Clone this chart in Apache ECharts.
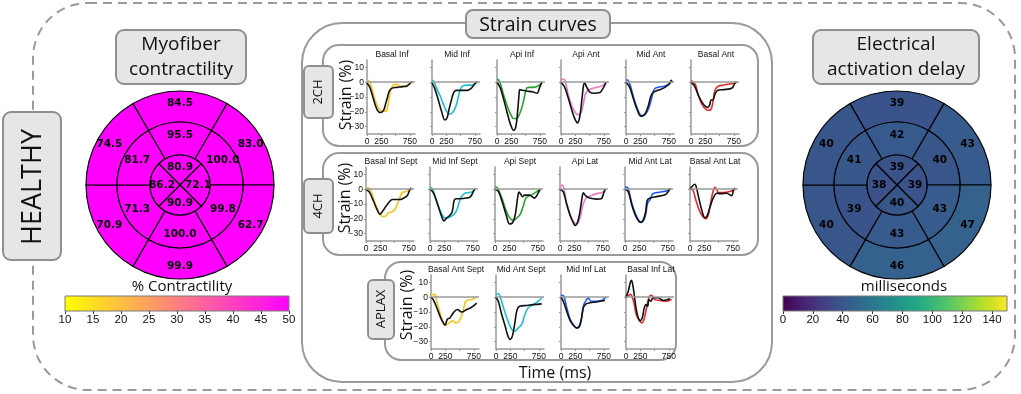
<!DOCTYPE html>
<html>
<head>
<meta charset="utf-8">
<title>Healthy: contractility, strain curves, activation delay</title>
<script src="https://cdn.jsdelivr.net/npm/echarts@6/dist/echarts.min.js"></script>
<style>
  html, body { margin: 0; padding: 0; background: #fff; }
  #chart { width: 1021px; height: 394px; }
</style>
</head>
<body>
<div id="chart"></div>
<script>
// ---- bullseye values (order: clockwise from the top segment) ----
const contractOuter = [84.5, 83.0, 62.7, 99.9, 70.9, 74.5];
const contractMid = [95.5, 100.0, 99.8, 100.0, 71.3, 81.7];
const contractApex = [80.9, 72.1, 90.9, 86.2];
const delayOuter = [39, 43, 47, 46, 40, 40];
const delayMid = [42, 40, 43, 43, 39, 41];
const delayApex = [39, 39, 40, 38];

const contractRange = [10, 50];
const delayRange = [0, 150];
const contractTicks = [10, 15, 20, 25, 30, 35, 40, 45, 50];
const delayTicks = [0, 20, 40, 60, 80, 100, 120, 140];

// ---- strain curves: [time (ms), strain (%)] ; sim = coloured, echo = black ----
const basalInfSim = [[0,1.5],[40,0.5],[90,-5],[150,-13],[210,-18],[270,-19.5],[330,-19.8],[360,-17],[390,-10],[420,-5],[460,-2],[520,-1.5],[600,-2.8],[680,-2.8],[740,-1.5],[790,0.5]];
const basalInfEcho = [[0,-0.5],[50,-3.5],[110,-11],[170,-18],[230,-20.5],[290,-19],[330,-14],[360,-10],[390,-6],[440,-4],[520,-3.5],[620,-3],[700,-2.5],[760,-0.5],[790,0.5]];
const midInfSim = [[0,1.5],[30,0.5],[80,-4],[140,-9],[200,-15],[260,-20],[320,-21.5],[370,-20],[420,-16],[460,-10],[500,-4.5],[540,-2.5],[620,-2],[690,-2],[750,-1],[790,0.5]];
const midInfEcho = [[0,-0.5],[50,-4.5],[110,-12],[170,-20],[225,-25.5],[265,-24],[300,-18],[340,-12],[380,-7],[420,-5.5],[500,-5.5],[620,-5.5],[690,-4],[750,-1],[790,0.5]];
const apiInfSim = [[0,2],[30,1.5],[60,-1],[110,-8],[170,-15],[230,-21],[290,-24.5],[340,-24.5],[400,-21],[450,-15],[490,-8],[520,-4],[560,-3.5],[640,-3.5],[720,-2.5],[790,0]];
const apiInfEcho = [[0,0],[60,-4],[120,-12],[180,-21],[240,-29],[290,-32.5],[330,-30],[360,-20],[385,-9],[400,-5],[450,-5.5],[520,-6],[620,-6.5],[700,-7.5],[750,-3],[790,0]];
const apiAntSim = [[0,1],[20,2],[50,2],[80,0],[130,-9],[190,-16],[250,-20.5],[300,-22],[350,-20.5],[390,-15],[420,-9],[460,-6],[530,-4.5],[620,-3.5],[720,-2.5],[790,0]];
const apiAntEcho = [[0,0],[60,-3],[130,-11],[190,-19],[250,-25.5],[290,-27.5],[330,-23],[365,-12],[395,-2],[415,-0.5],[445,-3],[500,-6.5],[580,-7.5],[680,-7],[745,-3.5],[790,0]];
const midAntSim = [[0,1.5],[30,1.5],[60,-0.5],[90,-4],[130,-10],[200,-18],[270,-22.5],[330,-22],[380,-19],[420,-15],[460,-9],[500,-4.5],[560,-3.5],[680,-2.5],[760,-1],[795,0.5]];
const midAntEcho = [[0,0],[60,-3],[120,-10],[190,-18],[260,-23],[300,-22.5],[340,-21],[390,-16],[430,-10],[470,-7],[560,-5.5],[680,-3.5],[760,-1],[790,1.2],[810,0]];
const basalAntSim = [[0,1],[40,0],[80,-2],[130,-9],[200,-15.5],[270,-18.5],[320,-19],[360,-17.5],[390,-12],[420,-5.5],[470,-2.8],[560,-2],[680,-1.2],[760,-0.5],[795,0]];
const basalAntEcho = [[0,0],[60,-2.5],[130,-9],[200,-14],[260,-16.5],[300,-17],[330,-15],[350,-12],[380,-12],[420,-8],[470,-5.5],[580,-5],[680,-4.5],[730,-3.5],[770,-0.5],[795,0]];

const basalInfSeptSim = [[0,1],[40,1],[80,-1],[130,-6],[190,-12.5],[250,-17],[300,-18.5],[350,-18],[390,-16],[440,-15.5],[500,-14],[550,-10],[590,-6],[630,-2.5],[700,-1.5],[760,-0.5],[790,0]];
const basalInfSeptEcho = [[0,0],[60,-2],[130,-8],[190,-13.5],[245,-17],[290,-15],[340,-12],[400,-9],[460,-7],[520,-7],[590,-7],[660,-6],[720,-4.5],[760,-1],[790,1]];
const midInfSeptSim = [[0,1.3],[40,0.3],[100,-6],[170,-14],[240,-19],[300,-19.5],[360,-18.5],[420,-17],[470,-14],[510,-9],[550,-5],[620,-2.5],[720,-2],[790,0]];
const midInfSeptEcho = [[0,0],[60,-2.5],[140,-11],[200,-18],[245,-21.5],[290,-19.5],[340,-18],[390,-15],[420,-8],[450,-6.5],[520,-6.5],[640,-6],[710,-5],[760,-1.5],[790,0.5]];
const apiSeptSim = [[0,1.3],[30,1.5],[60,-0.5],[120,-6],[190,-14],[260,-19.5],[320,-21],[380,-19.5],[440,-17],[490,-12],[540,-6],[600,-4.5],[680,-3],[790,0]];
const apiSeptEcho = [[0,0],[60,-1.5],[130,-9],[200,-18],[255,-23.5],[310,-22.5],[360,-16],[395,-6],[420,-2],[445,-3],[480,-5],[520,-4],[600,-4],[690,-6],[750,-3],[790,0]];
const apiLatSim = [[0,1.5],[40,2.8],[70,0],[115,-9],[175,-17],[230,-21.5],[280,-23.5],[320,-22.5],[360,-18],[405,-10],[460,-6],[530,-4.5],[640,-3],[750,-2],[795,0]];
const apiLatEcho = [[0,0],[60,-2],[115,-10],[175,-17.5],[230,-22.5],[265,-24.5],[310,-22],[350,-15],[385,-6],[410,-2.5],[450,-4.5],[520,-6],[640,-6.7],[720,-6.5],[770,-2],[795,0]];
const midAntLatSim = [[0,1.3],[40,1.3],[70,-1.5],[115,-9],[175,-16],[230,-20.5],[275,-22],[320,-21.5],[360,-17.5],[395,-9.5],[440,-7],[490,-3],[600,-2],[720,-1.2],[790,0]];
const midAntLatEcho = [[0,0],[55,-1.5],[115,-10],[175,-17],[230,-21],[270,-22.5],[315,-21],[360,-15.5],[390,-7.5],[440,-6],[550,-5],[690,-4],[750,-2],[790,0.7]];
const basalAntLatSim = [[0,0.7],[50,-0.5],[100,-7],[160,-14],[220,-18.3],[275,-20],[315,-18],[355,-10.5],[400,-2],[435,1.3],[465,0],[500,-2.2],[580,-2.2],[700,-1.5],[790,0]];
const basalAntLatEcho = [[0,0],[45,2.2],[85,3.3],[115,0.7],[160,-7],[220,-16],[260,-19.3],[300,-18],[345,-12.7],[395,-7],[435,-3.8],[470,-2.7],[530,-3],[640,-2.7],[725,-4.4],[765,0],[795,0.7]];

const basalAntSeptSim = [[0,0],[30,1.8],[70,1.8],[100,-2.7],[150,-9.5],[205,-16],[260,-19],[320,-17.4],[380,-16],[440,-17.4],[495,-16],[555,-10.5],[610,-2.7],[710,-1.6],[790,0]];
const basalAntSeptEcho = [[0,0],[40,-1.6],[100,-7],[170,-14],[215,-17.4],[245,-19],[285,-15],[330,-14],[390,-10.6],[460,-8.3],[535,-10],[625,-8.3],[710,-6.8],[800,-4]];
const midAntSeptSim = [[0,1.8],[40,2.5],[70,0.7],[130,-7],[190,-14],[245,-19.5],[290,-22.5],[330,-23],[390,-20.7],[450,-18.4],[505,-11.7],[565,-7.2],[650,-5],[740,-2.7],[800,-0.4]];
const midAntSeptEcho = [[0,0],[40,-2.7],[100,-11.7],[160,-19.5],[205,-25.8],[245,-28.5],[290,-25.8],[330,-17.3],[370,-8.3],[420,-6],[540,-5.6],[650,-5],[800,-4.5]];
const midInfLatSim = [[0,0.7],[30,1.3],[60,-0.4],[100,-7],[160,-15],[230,-19.5],[285,-21],[330,-19.5],[370,-11.7],[400,-5],[450,-1.6],[480,-0.4],[520,-2.7],[600,-2.7],[710,-2.2],[790,0]];
const midInfLatEcho = [[0,0],[40,-2.7],[100,-9.5],[160,-15.8],[230,-19.5],[275,-20.7],[320,-19.5],[360,-14],[390,-7.2],[440,-4.5],[510,-3.8],[620,-3.2],[770,-2.2]];
const basalInfLatSim = [[0,0],[40,1],[80,2],[110,0],[140,-4],[180,-11.7],[235,-16],[275,-17.4],[315,-15],[360,-7.2],[400,-0.4],[435,1.3],[465,0.7],[505,-1.6],[595,-2.2],[710,-2.7],[800,-1.5]];
const basalInfLatEcho = [[0,0],[40,4],[75,10],[95,11.5],[115,9],[140,3],[175,-7.2],[215,-14],[255,-15.8],[290,-13],[320,-7.2],[350,-5],[380,-6],[400,-1.6],[435,-2.7],[475,-0.4],[565,-0.4],[650,-2.2],[770,-1.1]];

const strainTicks = [10, 0, -10, -20, -30];
const timeLabels = [0, 250, 750];
const timeTicks = [0, 250, 500, 750];

// ---- colours ----
const YELLOW = "#f7c51c", CYAN = "#1cbfd0", GREEN = "#27a02e", PINK = "#e47cc8", BLUE = "#2058f0", RED = "#e22a2a";
const springR = ["#ffff00", "#ff00ff"];
const viridis = ["#440154", "#482475", "#414487", "#355f8d", "#2a788e", "#21918c", "#22a884", "#44bf70", "#7ad151", "#bddf26", "#fde725"];

const rows = [
  { view: "2CH", top: 60, lefts: [367, 432, 497, 561, 626, 691] },
  { view: "4CH", top: 167, lefts: [366, 430, 495, 560, 625, 690] },
  { view: "APLAX", top: 275, lefts: [431, 496, 561, 626] },
];

const panels = [
  { view: "2CH", title: "Basal Inf", color: YELLOW, sim: basalInfSim, echo: basalInfEcho },
  { view: "2CH", title: "Mid Inf", color: CYAN, sim: midInfSim, echo: midInfEcho },
  { view: "2CH", title: "Api Inf", color: GREEN, sim: apiInfSim, echo: apiInfEcho },
  { view: "2CH", title: "Api Ant", color: PINK, sim: apiAntSim, echo: apiAntEcho },
  { view: "2CH", title: "Mid Ant", color: BLUE, sim: midAntSim, echo: midAntEcho },
  { view: "2CH", title: "Basal Ant", color: RED, sim: basalAntSim, echo: basalAntEcho },
  { view: "4CH", title: "Basal Inf Sept", color: YELLOW, sim: basalInfSeptSim, echo: basalInfSeptEcho },
  { view: "4CH", title: "Mid Inf Sept", color: CYAN, sim: midInfSeptSim, echo: midInfSeptEcho },
  { view: "4CH", title: "Api Sept", color: GREEN, sim: apiSeptSim, echo: apiSeptEcho },
  { view: "4CH", title: "Api Lat", color: PINK, sim: apiLatSim, echo: apiLatEcho },
  { view: "4CH", title: "Mid Ant Lat", color: BLUE, sim: midAntLatSim, echo: midAntLatEcho },
  { view: "4CH", title: "Basal Ant Lat", color: RED, sim: basalAntLatSim, echo: basalAntLatEcho },
  { view: "APLAX", title: "Basal Ant Sept", color: YELLOW, sim: basalAntSeptSim, echo: basalAntSeptEcho },
  { view: "APLAX", title: "Mid Ant Sept", color: CYAN, sim: midAntSeptSim, echo: midAntSeptEcho },
  { view: "APLAX", title: "Mid Inf Lat", color: BLUE, sim: midInfLatSim, echo: midInfLatEcho },
  { view: "APLAX", title: "Basal Inf Lat", color: RED, sim: basalInfLatSim, echo: basalInfLatEcho },
];

const PANEL_W = 48, PANEL_H = 74;
const SMALL_FONT = "Liberation Sans";
const LABEL_FONT = "Open Sans";

function hexToRgb(hex) {
  const n = parseInt(hex.slice(1), 16);
  return [n >> 16, (n >> 8) & 255, n & 255];
}

function sampleCmap(stops, t) {
  t = Math.max(0, Math.min(1, t));
  const pos = t * (stops.length - 1);
  const i = Math.min(Math.floor(pos), stops.length - 2);
  const f = pos - i;
  const a = hexToRgb(stops[i]);
  const b = hexToRgb(stops[i + 1]);
  return "rgb(" + a.map((v, k) => Math.round(v + (b[k] - v) * f)).join(",") + ")";
}

function minusFmt(v) {
  return v < 0 ? "\u2212" + Math.abs(v) : String(v);
}

function ringSeries(center, radius, startAngle, values, cmap, range, decimals) {
  return {
    type: "pie",
    center,
    radius,
    startAngle,
    clockwise: true,
    silent: true,
    avoidLabelOverlap: false,
    label: {
      show: true,
      position: "inside",
      formatter: (p) => p.data.metric.toFixed(decimals),
      color: "#000",
      fontFamily: "DejaVu Sans",
      fontWeight: "bold",
      fontSize: 10.5,
    },
    labelLine: { show: false },
    itemStyle: { borderColor: "#000", borderWidth: 1.2 },
    emphasis: { disabled: true },
    data: values.map((v) => ({
      value: 1,
      metric: v,
      itemStyle: { color: sampleCmap(cmap, (v - range[0]) / (range[1] - range[0])) },
    })),
  };
}

const grids = [];
const xAxes = [];
const yAxes = [];
const series = [];
const texts = [];

// strain panels
let rowCounters = {};
panels.forEach((p, i) => {
  const row = rows.find((r) => r.view === p.view);
  const col = rowCounters[p.view] || 0;
  rowCounters[p.view] = col + 1;
  const left = row.lefts[col];
  grids.push({ left, top: row.top, width: PANEL_W, height: PANEL_H });
  xAxes.push({
    gridIndex: i,
    type: "value",
    min: 0,
    max: 840,
    splitLine: { show: false },
    axisLine: { onZero: false, lineStyle: { color: "#9a9a9a", width: 1.5 } },
    axisTick: { customValues: timeTicks, length: 2, lineStyle: { color: "#9a9a9a" } },
    axisLabel: { customValues: timeLabels, fontSize: 8.5, margin: 3, color: "#111", fontFamily: SMALL_FONT },
  });
  yAxes.push({
    gridIndex: i,
    type: "value",
    min: -35,
    max: 15,
    splitLine: { show: false },
    axisLine: { show: true, lineStyle: { color: "#9a9a9a", width: 1.5 } },
    axisTick: { show: true, customValues: strainTicks, length: 2, lineStyle: { color: "#9a9a9a" } },
    axisLabel: {
      show: col === 0,
      customValues: strainTicks,
      formatter: minusFmt,
      fontSize: 8.5,
      margin: 3,
      color: "#111",
      fontFamily: SMALL_FONT,
    },
  });
  series.push({
    type: "line",
    xAxisIndex: i,
    yAxisIndex: i,
    data: p.sim,
    smooth: 0.35,
    showSymbol: false,
    silent: true,
    lineStyle: { color: p.color, width: 1.6 },
    markLine: {
      silent: true,
      symbol: "none",
      label: { show: false },
      lineStyle: { color: "#9a9a9a", width: 1.5, type: "solid" },
      data: [{ yAxis: 0 }],
    },
    z: 3,
  });
  series.push({
    type: "line",
    xAxisIndex: i,
    yAxisIndex: i,
    data: p.echo,
    smooth: 0.35,
    showSymbol: false,
    silent: true,
    lineStyle: { color: "#111", width: 1.6 },
    z: 4,
  });
  texts.push({
    type: "text",
    x: left + PANEL_W / 2 + 1,
    y: row.top - 5,
    silent: true,
    style: { text: p.title, align: "center", verticalAlign: "middle", font: "8.5px '" + SMALL_FONT + "'", fill: "#111" },
  });
});

// colour bars
function colorbar(gridIdx, left, range, ticks, cmap) {
  grids.push({ left, top: 296, width: 224, height: 15 });
  xAxes.push({
    gridIndex: gridIdx,
    type: "value",
    min: range[0],
    max: range[1],
    splitLine: { show: false },
    axisLine: { show: false },
    axisTick: { customValues: ticks, length: 3, lineStyle: { color: "#333" } },
    axisLabel: { customValues: ticks, fontSize: 11.5, margin: 3, color: "#111", fontFamily: SMALL_FONT },
  });
  yAxes.push({ gridIndex: gridIdx, type: "value", min: 0, max: 1, show: false });
  series.push({
    type: "custom",
    xAxisIndex: gridIdx,
    yAxisIndex: gridIdx,
    silent: true,
    data: [[range[0], range[1]]],
    encode: { x: [0, 1] },
    renderItem(params, api) {
      const p0 = api.coord([api.value(0), 0]);
      const p1 = api.coord([api.value(1), 1]);
      return {
        type: "rect",
        shape: { x: p0[0], y: p1[1], width: p1[0] - p0[0], height: p0[1] - p1[1] },
        style: {
          fill: new echarts.graphic.LinearGradient(0, 0, 1, 0,
            cmap.map((c, k) => ({ offset: k / (cmap.length - 1), color: c }))),
          stroke: "#7a7a7a",
          lineWidth: 1,
        },
      };
    },
  });
}
colorbar(panels.length, 65, contractRange, contractTicks, springR);
colorbar(panels.length + 1, 783, delayRange, delayTicks, viridis);

// bullseyes
const leftCenter = [180, 185], rightCenter = [897, 185];
const rApex = [0, 30], rMid = [30, 63], rOuter = [63, 94];
series.push(ringSeries(leftCenter, rOuter, 120, contractOuter, springR, contractRange, 1));
series.push(ringSeries(leftCenter, rMid, 120, contractMid, springR, contractRange, 1));
series.push(ringSeries(leftCenter, rApex, 135, contractApex, springR, contractRange, 1));
series.push(ringSeries(rightCenter, rOuter, 120, delayOuter, viridis, delayRange, 0));
series.push(ringSeries(rightCenter, rMid, 120, delayMid, viridis, delayRange, 0));
series.push(ringSeries(rightCenter, rApex, 135, delayApex, viridis, delayRange, 0));

// frames and labels
const BOX_FILL = "#e6e6e6", BOX_STROKE = "#8f8f8f", FRAME = "#9a9a9a";
function box(x, y, w, h, r, fill, stroke, dash) {
  return {
    type: "rect",
    shape: { x, y, width: w, height: h, r },
    style: { fill: fill || "none", stroke, lineWidth: 2, lineDash: dash || null },
    silent: true,
  };
}
function label(text, x, y, size, rotation) {
  return {
    type: "text",
    x,
    y,
    rotation: rotation || 0,
    silent: true,
    style: { text, align: "center", verticalAlign: "middle", font: size + "px '" + LABEL_FONT + "'", fill: "#111", lineHeight: 25 },
  };
}

const frames = [
  box(33, 3, 982, 387, 55, null, FRAME, [9, 6]),
  box(302, 23, 470, 359, 40, null, FRAME),
  box(323, 45, 435, 101, 16, null, FRAME),
  box(323, 153, 435, 102, 16, null, FRAME),
  box(385, 262, 291, 98, 16, null, FRAME),
  box(3, 112, 58, 148, 8, BOX_FILL, BOX_STROKE),
  box(116, 30, 130, 54, 8, BOX_FILL, BOX_STROKE),
  box(813, 30, 166, 54, 8, BOX_FILL, BOX_STROKE),
  box(466, 10, 144, 28, 7, BOX_FILL, BOX_STROKE),
  box(304, 66, 29, 52, 5, BOX_FILL, BOX_STROKE),
  box(304, 179, 29, 54, 5, BOX_FILL, BOX_STROKE),
  box(368, 280, 26, 59, 5, BOX_FILL, BOX_STROKE),
];

const labels = [
  label("HEALTHY", 33, 187, 27, Math.PI / 2),
  label("Myofiber\ncontractility", 181, 57, 19),
  label("Electrical\nactivation delay", 896, 57, 19),
  label("Strain curves", 538, 25, 19.5),
  label("2CH", 318, 92, 13, Math.PI / 2),
  label("4CH", 318, 206, 13, Math.PI / 2),
  label("APLAX", 381, 309, 13, Math.PI / 2),
  label("Strain (%)", 346, 95, 16, Math.PI / 2),
  label("Strain (%)", 345, 198, 16, Math.PI / 2),
  label("Strain (%)", 407, 305, 16, Math.PI / 2),
  label("Time (ms)", 555, 373, 16),
  label("% Contractility", 182, 287, 15),
  label("milliseconds", 904, 287, 15),
];

const chart = echarts.init(document.getElementById("chart"), null, { renderer: "canvas" });
chart.setOption({
  animation: false,
  backgroundColor: "#fff",
  grid: grids,
  xAxis: xAxes,
  yAxis: yAxes,
  series,
  graphic: { elements: frames.concat(labels, texts) },
});
</script>
</body>
</html>
